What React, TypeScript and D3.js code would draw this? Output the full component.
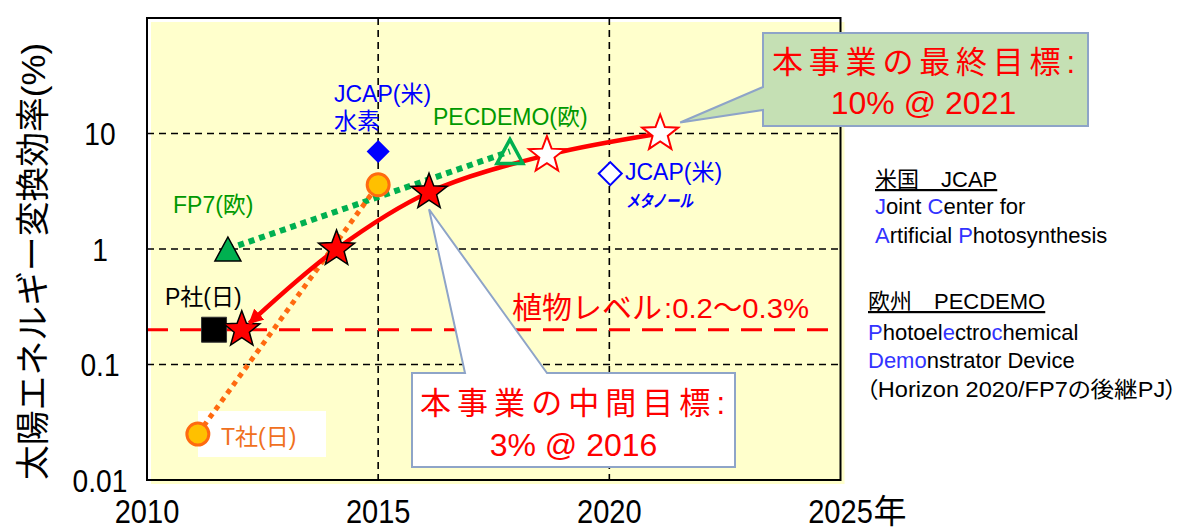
import React from "react";
import * as d3 from "d3";

// ---------- data ----------
const xTicks = [2010, 2015, 2020, 2025];
const xTickLabels = ["2010", "2015", "2020", "2025"];
const xTickSuffix = ["", "", "", "年"];
const yTicks = [0.01, 0.1, 1, 10];
const yTickLabels = ["0.01", "0.1", "1", "10"];
const gridYears = [2015, 2020];
const gridValues = [0.1, 1, 10];

// 本事業 achieved (red stars) and targets (white stars)
const achievedYears = [2012.05, 2014.1, 2016.1];
const achievedValues = [0.2, 1.0, 3.1];
const targetYears = [2018.65, 2021.1];
const targetValues = [6.5, 10];

// T社(日)
const tYears = [2011.1, 2015.0];
const tValues = [0.025, 3.6];

// FP7 -> PECDEMO (欧)
const euYears = [2011.75, 2017.85];
const euValues = [1.0, 7.0];

// P社(日)
const pYears = [2011.45];
const pValues = [0.2];

// JCAP (米)
const jcapH2Years = [2015.0];
const jcapH2Values = [7.0];
const jcapMeYears = [2020.02];
const jcapMeValues = [4.5];

const plantLevel = 0.2;

const FONT = "'Liberation Sans', Arial, 'Noto Sans CJK JP', sans-serif";
const RED = "#FF0000";
const BLUE = "#0000FF";
const LBLUE = "#3333FF";
const GREEN = "#00B050";
const GREEN_TXT = "#009900";
const ORANGE = "#FF6A10";
const ORANGE_TXT = "#F07020";
const CALLOUT_STROKE = "#8EA4C8";

const starPath = (R: number) => {
  const pts: [number, number][] = d3
    .range(10)
    .map((i) => [(i * Math.PI) / 5, i % 2 === 0 ? R : R * 0.42]);
  return d3.lineRadial().curve(d3.curveLinearClosed)(pts) as string;
};
const trianglePath = (h: number, w: number) =>
  d3.line().curve(d3.curveLinearClosed)([
    [0, -h / 2],
    [w / 2, h / 2],
    [-w / 2, h / 2],
  ]) as string;

export default function App() {
  const x = d3.scaleLinear().domain([2010, 2025]).range([147, 840.5]);
  const y = d3.scaleLog().domain([0.01, 100]).range([480, 18]);
  const [x0, x1] = x.range();
  const [yB, yT] = y.range();

  const straight = d3
    .line<[number, number]>()
    .x((d) => x(d[0]))
    .y((d) => y(d[1]));

  // red curve: achieved + targets, starting slightly off the first star (arrow)
  const redPts: [number, number][] = [
    ...achievedYears.map((yr, i) => [x(yr), y(achievedValues[i])] as [number, number]),
    ...targetYears.map((yr, i) => [x(yr), y(targetValues[i])] as [number, number]),
  ];
  const dx = redPts[1][0] - redPts[0][0];
  const dy = redPts[1][1] - redPts[0][1];
  const dl = Math.hypot(dx, dy);
  const startPt: [number, number] = [redPts[0][0] + (dx / dl) * 10, redPts[0][1] + (dy / dl) * 10];
  const redCurve = d3
    .line<[number, number]>()
    .x((d) => d[0])
    .y((d) => d[1])
    .curve(d3.curveCatmullRom.alpha(0.5))([startPt, ...redPts.slice(1)]) as string;

  const star = starPath(19);
  const tri = trianglePath(24, 26);
  const diamond = d3.symbol(d3.symbolSquare, 265)() as string;
  const square = d3.symbol(d3.symbolSquare, 625)() as string;

  // callout tips from the marks they point to
  const gTip: [number, number] = [x(targetYears[1]) + 20, y(targetValues[1]) - 11];
  const wTip: [number, number] = [x(achievedYears[2]), y(achievedValues[2]) + 17];
  const greenCallout = `M763,33H1088V126H763V110L${gTip[0]},${gTip[1]}L763,87Z`;
  const whiteCallout = `M412,373H465L${wTip[0]},${wTip[1]}L547,373H735V467H412Z`;

  const legendBlue = (parts: [string, boolean][]) =>
    parts.map(([t, b], i) => (
      <tspan key={i} fill={b ? LBLUE : "#000"}>
        {t}
      </tspan>
    ));

  return (
    <svg
      width={1180}
      height={530}
      style={{ position: "absolute", left: 0, top: 0, background: "#fff" }}
      fontFamily={FONT}
    >
      <defs>
        <marker
          id="arr"
          viewBox="0 0 10 10"
          refX="9"
          refY="5"
          markerWidth="15"
          markerHeight="15"
          markerUnits="userSpaceOnUse"
          orient="auto-start-reverse"
        >
          <path d="M0,0L10,5L0,10Z" fill={RED} />
        </marker>
      </defs>

      {/* plot background (offset fill) and frame */}
      <rect x={x0 + 4} y={yT + 4} width={x1 - x0} height={yB - yT} fill="#FFFFCC" />

      {/* grid */}
      {gridYears.map((g) => (
        <line key={"gx" + g} x1={x(g)} x2={x(g)} y1={yT} y2={yB} stroke="#000" strokeWidth={1.6} strokeDasharray="7 5" />
      ))}
      {gridValues.map((g) => (
        <line key={"gy" + g} x1={x0} x2={x1} y1={y(g)} y2={y(g)} stroke="#000" strokeWidth={1.6} strokeDasharray="7 5" />
      ))}

      {/* plant level */}
      <line x1={x0} x2={x1} y1={y(plantLevel)} y2={y(plantLevel)} stroke={RED} strokeWidth={3} strokeDasharray="21 12" />
      <text x={512} y={318} fontSize={30} fill={RED}>植物レベル</text>
      <text x={664} y={318} fontSize={28} fill={RED} textLength={145} lengthAdjust="spacingAndGlyphs">:0.2〜0.3%</text>

      {/* T社 label box */}
      <rect x={198} y={411} width={128} height={46} fill="#fff" />
      <text x={221} y={445} fontSize={23} fill={ORANGE_TXT}>T社(日)</text>

      {/* EU dotted line */}
      <path
        d={straight(euYears.map((yr, i) => [yr, euValues[i]] as [number, number])) as string}
        fill="none"
        stroke={GREEN}
        strokeWidth={6}
        strokeDasharray="6 5"
      />
      {/* T社 dotted line */}
      <path
        d={straight(tYears.map((yr, i) => [yr, tValues[i]] as [number, number])) as string}
        fill="none"
        stroke={ORANGE}
        strokeWidth={5}
        strokeDasharray="5 5"
      />

      {/* P社 square */}
      {pYears.map((yr, i) => (
        <path key={"p" + i} d={square} transform={`translate(${x(yr)},${y(pValues[i])})`} fill="#000" stroke="#333" strokeWidth={1} />
      ))}

      {/* first achieved star under the arrow */}
      <path d={star} transform={`translate(${redPts[0][0]},${redPts[0][1]})`} fill={RED} stroke="#000" strokeWidth={1.5} />

      {/* red line */}
      <path d={redCurve} fill="none" stroke={RED} strokeWidth={4.5} markerStart="url(#arr)" />

      {/* remaining achieved stars */}
      {achievedYears.slice(1).map((yr, i) => (
        <path
          key={"a" + i}
          d={star}
          transform={`translate(${x(yr)},${y(achievedValues[i + 1])})`}
          fill={RED}
          stroke="#000"
          strokeWidth={1.5}
        />
      ))}
      {/* target stars */}
      {targetYears.map((yr, i) => (
        <path
          key={"t" + i}
          d={star}
          transform={`translate(${x(yr)},${y(targetValues[i])})`}
          fill="#fff"
          stroke={RED}
          strokeWidth={2}
        />
      ))}

      {/* T社 circles */}
      {tYears.map((yr, i) => (
        <circle key={"c" + i} cx={x(yr)} cy={y(tValues[i])} r={11} fill="#FFC000" stroke={ORANGE} strokeWidth={3} />
      ))}

      {/* EU triangles */}
      <path d={tri} transform={`translate(${x(euYears[0])},${y(euValues[0])})`} fill={GREEN} stroke="#000" strokeWidth={1.5} />
      <path d={tri} transform={`translate(${x(euYears[1])},${y(euValues[1])})`} fill="none" stroke={GREEN} strokeWidth={3.5} />

      {/* JCAP diamonds */}
      {jcapH2Years.map((yr, i) => (
        <path key={"h" + i} d={diamond} transform={`translate(${x(yr)},${y(jcapH2Values[i])}) rotate(45)`} fill={BLUE} />
      ))}
      {jcapMeYears.map((yr, i) => (
        <path
          key={"m" + i}
          d={diamond}
          transform={`translate(${x(yr)},${y(jcapMeValues[i])}) rotate(45)`}
          fill="#fff"
          stroke={BLUE}
          strokeWidth={2}
        />
      ))}

      {/* frame */}
      <rect x={x0} y={yT} width={x1 - x0} height={yB - yT} fill="none" stroke="#000" strokeWidth={2} />

      {/* mark labels */}
      <text x={334} y={102} fontSize={23} fill={BLUE}>JCAP(米)</text>
      <text x={334} y={129} fontSize={23} fill={BLUE}>水素</text>
      <text x={433} y={125} fontSize={23} fill={GREEN_TXT}>PECDEMO(欧)</text>
      <text x={173} y={213} fontSize={23} fill={GREEN_TXT}>FP7(欧)</text>
      <text x={165} y={305} fontSize={23} fill="#000">P社(日)</text>
      <text x={625} y={180} fontSize={23} fill={BLUE}>JCAP(米)</text>
      <text x={626} y={207} fontSize={17} fill={BLUE} fontStyle="italic" fontWeight={600} textLength={67} lengthAdjust="spacingAndGlyphs">
        メタノール
      </text>

      {/* callouts */}
      <path d={greenCallout} fill="#C5E0B4" stroke={CALLOUT_STROKE} strokeWidth={2} />
      <text x={923.5} y={73} fontSize={31} fill={RED} textAnchor="middle" textLength={303} lengthAdjust="spacing">
        本事業の最終目標:
      </text>
      <text x={923.5} y={114} fontSize={32} fill={RED} textAnchor="middle">10% @ 2021</text>

      <path d={whiteCallout} fill="#fff" stroke={CALLOUT_STROKE} strokeWidth={2} />
      <text x={572.5} y={414} fontSize={31} fill={RED} textAnchor="middle" textLength={305} lengthAdjust="spacing">
        本事業の中間目標:
      </text>
      <text x={573.5} y={456} fontSize={32} fill={RED} textAnchor="middle">3% @ 2016</text>

      {/* axes labels */}
      {yTicks.map((t, i) => (
        <text
          key={"yt" + t}
          transform={`translate(100,${y(t)}) scale(0.88,1)`}
          dy="0.36em"
          fontSize={32}
          textAnchor="middle"
          fill="#000"
        >
          {yTickLabels[i]}
        </text>
      ))}
      {xTicks.map((t, i) => (
        <g key={"xt" + t}>
          <text transform={`translate(${x(t)},523) scale(0.88,1)`} fontSize={33} textAnchor="middle" fill="#000">
            {xTickLabels[i]}
          </text>
          {xTickSuffix[i] && (
            <text x={x(t) + 33} y={523} fontSize={33} fill="#000">
              {xTickSuffix[i]}
            </text>
          )}
        </g>
      ))}
      <text
        transform="translate(45,261.5) rotate(-90)"
        fontSize={34}
        textAnchor="middle"
        fill="#000"
        textLength={437}
        lengthAdjust="spacingAndGlyphs"
      >
        太陽エネルギー変換効率(%)
      </text>

      {/* right-side notes */}
      <g fontSize={22}>
        <text x={875} y={187} fill="#000" style={{ textDecoration: "underline" }}>米国　JCAP</text>
        <text x={875} y={214}>{legendBlue([["J", true], ["oint ", false], ["C", true], ["enter for", false]])}</text>
        <text x={875} y={243}>{legendBlue([["A", true], ["rtificial ", false], ["P", true], ["hotosynthesis", false]])}</text>
        <text x={868} y={309} fill="#000" style={{ textDecoration: "underline" }}>欧州　PECDEMO</text>
        <text x={868} y={340}>
          {legendBlue([["P", true], ["hotoel", false], ["e", true], ["ctro", false], ["c", true], ["hemical", false]])}
        </text>
        <text x={868} y={368}>{legendBlue([["Demo", true], ["nstrator Device", false]])}</text>
        <text x={866} y={397} fill="#000" textLength={311} lengthAdjust="spacingAndGlyphs" style={{ fontFeatureSettings: '"palt"' }}>
          （Horizon 2020/FP7の後継PJ）
        </text>
      </g>
    </svg>
  );
}
